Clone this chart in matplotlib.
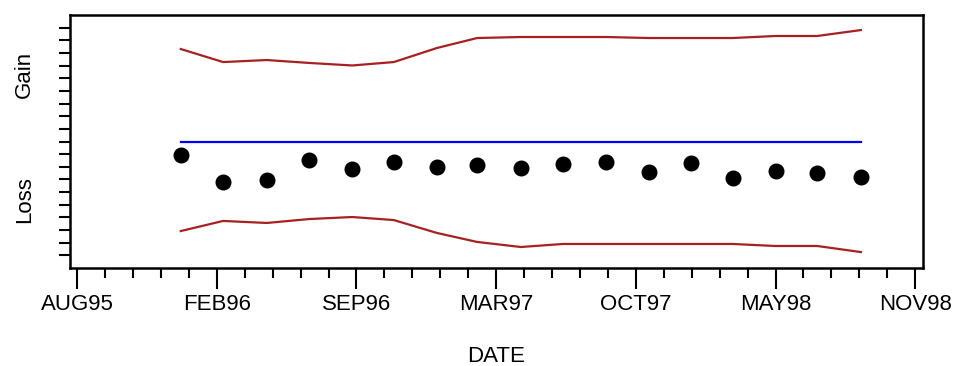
import matplotlib
matplotlib.use("Agg")
import matplotlib.pyplot as plt
import numpy as np

plt.rcParams['font.family'] = ['Liberation Sans', 'DejaVu Sans']

# x: days from the AUG95 tick
date_days = [147, 207, 269, 329, 390, 449, 510, 567, 629, 689, 750, 811, 870, 929, 990, 1049, 1111]
values = [8.93, 6.80, 6.96, 8.54, 7.83, 8.38, 7.98, 8.14, 7.91, 8.22, 8.38, 7.59, 8.30, 7.11, 7.67, 7.51, 7.19]
upper = [17.31, 16.28, 16.44, 16.21, 16.01, 16.28, 17.39, 18.18, 18.26, 18.26, 18.26, 18.18, 18.18, 18.18, 18.34, 18.34, 18.81]
lower = [2.92, 3.72, 3.56, 3.87, 4.03, 3.79, 2.77, 2.06, 1.66, 1.90, 1.90, 1.90, 1.90, 1.90, 1.74, 1.74, 1.26]
center = [10.0] * len(date_days)

tick_days = [0, 198, 396, 594, 792, 990, 1188]
tick_labels = ['AUG95', 'FEB96', 'SEP96', 'MAR97', 'OCT97', 'MAY98', 'NOV98']

fig = plt.figure(figsize=(9.58, 3.66), dpi=100)
ax = fig.add_axes([70/958, 1-268/366, (923-70)/958, (268-15)/366])

ax.plot(date_days, upper, color='#A82020', lw=1.6)
ax.plot(date_days, lower, color='#A82020', lw=1.6)
ax.plot(date_days, center, color='#0000FF', lw=1.6)
ax.plot(date_days, values, 'o', color='black', ms=10.5)

ax.set_xlim(-10, 1199)
ax.set_ylim(0, 20)
ax.set_xticks(tick_days)
ax.set_xticklabels(tick_labels, fontsize=16)
ax.set_xticks(np.arange(0, 1189, 39.6), minor=True)
ax.tick_params(axis='x', which='major', length=15, width=1.5, direction='out', pad=4)
ax.tick_params(axis='x', which='minor', length=7, width=1.5, direction='out')
ax.set_yticks(np.arange(1, 20))
ax.set_yticklabels([])
ax.tick_params(axis='y', which='major', length=8, width=1.5, direction='out')
for s in ax.spines.values():
    s.set_linewidth(1.8)

ax.text(-0.053, 15.3, 'Gain', transform=ax.get_yaxis_transform(), rotation=90,
        ha='center', va='center', fontsize=16)
ax.text(-0.053, 5.4, 'Loss', transform=ax.get_yaxis_transform(), rotation=90,
        ha='center', va='center', fontsize=16)
ax.set_xlabel('DATE', fontsize=16, labelpad=22)

fig.savefig('out.png', dpi=100)
